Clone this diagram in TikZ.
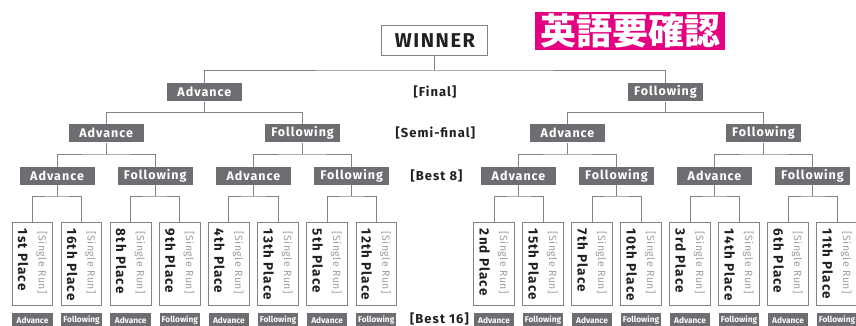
\documentclass[tikz,border=0pt]{standalone}
\usepackage{fontspec}
\setmainfont[LetterSpace=8]{Fira Sans}
\newfontfamily\subfont[LetterSpace=5]{Fira Sans}
\newfontfamily\smallfont{Fira Sans}
\newfontfamily\cjk{Noto Sans CJK JP}
\usetikzlibrary{calc}
\definecolor{boxgray}{HTML}{6D6E71}
\definecolor{linegray}{HTML}{808285}
\definecolor{subgray}{HTML}{9D9FA2}
\definecolor{textblack}{HTML}{231F20}
\definecolor{pink}{HTML}{E4007F}
\begin{document}
\begin{tikzpicture}[x=1pt,y=-1pt,
  conn/.style={draw=linegray, line width=1pt},
  winbox/.style={draw=linegray, line width=1pt, fill=white, text=textblack, minimum width=106pt, minimum height=30.7pt, inner sep=0pt, font=\bfseries\fontsize{20}{24}\selectfont},
  pinkbox/.style={fill=pink, text=white, minimum width=189.4pt, minimum height=38pt, inner sep=0pt, font=\cjk\bfseries\fontsize{36}{38}\selectfont},
  lvl/.style={fill=boxgray, text=white, minimum width=75pt, minimum height=18.5pt, inner sep=0pt, font=\bfseries\fontsize{12.5}{14}\selectfont},
  lbl/.style={text=textblack, inner sep=0pt, font=\bfseries\fontsize{13}{15}\selectfont},
  leafbox/.style={draw=linegray, fill=white, line width=0.9pt, minimum width=40.5pt, minimum height=82.3pt, inner sep=0pt},
  subtxt/.style={text=subgray, inner sep=0pt, rotate=-90, anchor=base west, font=\subfont\fontsize{10.5}{12}\selectfont},
  placetxt/.style={text=textblack, inner sep=0pt, rotate=-90, anchor=base west, font=\bfseries\fontsize{13.5}{16}\selectfont},
  qbox/.style={fill=boxgray, text=white, minimum width=40.5pt, minimum height=15pt, inner sep=0pt, font=\smallfont\bfseries\fontsize{8.3}{10}\selectfont}
]
\useasboundingbox (0,0) rectangle (856,326);

\node[winbox] (W) at (434.9,40.5) {WINNER};
\node[pinkbox] (JP) at (630,31) {英語要確認};

\node[lvl] (F1) at (204.35,92.2) {Advance};
\node[lvl] (F2) at (665.5,92.2) {Following};

\node[lvl] (S1) at (106.15,133.2) {Advance};
\node[lvl] (S2) at (302.55,133.2) {Following};
\node[lvl] (S3) at (567.5,133.2) {Advance};
\node[lvl] (S4) at (763.5,133.2) {Following};

\foreach \i/\x/\t in {1/57.05/Advance,2/155.25/Following,3/253.45/Advance,4/351.65/Following,5/518.5/Advance,6/616.5/Following,7/714.5/Advance,8/812.5/Following}{
  \node[lvl] (B\i) at (\x,176) {\t};
}

\foreach \i/\x/\t/\q in {1/32.5/1st/Advance,2/81.6/16th/Following,3/130.7/8th/Advance,4/179.8/9th/Following,5/228.9/4th/Advance,6/278.0/13th/Following,7/327.1/5th/Advance,8/376.2/12th/Following,9/494/2nd/Advance,10/543/15th/Following,11/592/7th/Advance,12/641/10th/Following,13/690/3rd/Advance,14/739/14th/Following,15/788/6th/Advance,16/837/11th/Following}{
  \node[leafbox] (L\i) at (\x,263.85) {};
  \node[subtxt] (R\i) at ($(L\i.north west)+(26.8,9)$) {[Single Run]};
  \node[placetxt] (P\i) at ($(L\i.north west)+(6.2,6.5)$) {\t\ Place};
  \node[qbox] (Q\i) at (\x,320.5) {\q};
}

\node[lbl] (tF) at (435,92.2) {[Final]};
\node[lbl] (tS) at (435.3,133.2) {[Semi-final]};
\node[lbl] (tB8) at (436.5,176) {[Best 8]};
\node[lbl] (tB16) at (439.5,318.5) {[Best 16]};

\foreach \p/\a/\b/\y in {W/F1/F2/71,F1/S1/S2/112.3,F2/S3/S4/112.3,S1/B1/B2/154,S2/B3/B4/154,S3/B5/B6/154,S4/B7/B8/154,B1/L1/L2/196,B2/L3/L4/196,B3/L5/L6/196,B4/L7/L8/196,B5/L9/L10/196,B6/L11/L12/196,B7/L13/L14/196,B8/L15/L16/196}{
  \draw[conn] (\a.north) |- (\p.south |- 0,\y) -| (\b.north);
  \draw[conn] (\p.south) -- (\p.south |- 0,\y);
}
\end{tikzpicture}
\end{document}
